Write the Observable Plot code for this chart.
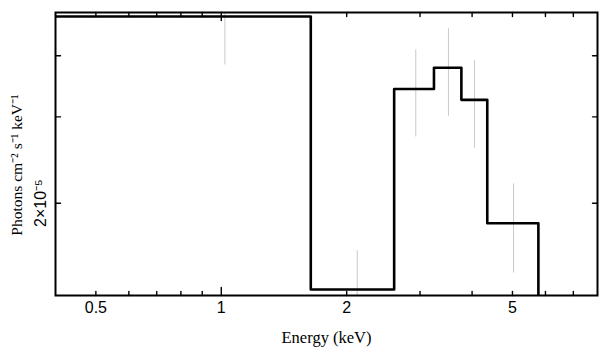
<!DOCTYPE html>
<html>
<head>
<meta charset="utf-8">
<script src="https://cdn.jsdelivr.net/npm/d3@7"></script>
<script src="https://cdn.jsdelivr.net/npm/@observablehq/plot@0.6"></script>
<style>
  html, body { margin: 0; padding: 0; background: #fff; }
</style>
</head>
<body>
<div id="chart"></div>
<script>
// Histogram bins (keV) and model flux (photons cm^-2 s^-1 keV^-1)
const binEdges = [0.4, 1.64, 2.6, 3.24, 3.77, 4.35, 5.77];
const binFlux = [4.81e-5, 1.333e-5, 3.42e-5, 3.78e-5, 3.25e-5, 1.82e-5];

// Data points with error bars
const errEnergy = [1.02, 2.12, 2.93, 3.51, 4.055, 5.03];
const errLow = [3.83e-5, 1.2e-5, 2.73e-5, 3.01e-5, 2.59e-5, 1.44e-5];
const errHigh = [5.2e-5, 1.60e-5, 4.11e-5, 4.54e-5, 3.91e-5, 2.19e-5];

// Axes
const xDomain = [0.4, 8];
const yDomain = [1.296e-5, 4.9e-5];
const xTickLabels = [0.5, 1, 2, 5];
const xMajorTicks = [1];
const xMinorTicks = [0.5, 0.6, 0.7, 0.8, 0.9, 2, 3, 4, 5, 6, 7];
const yTicks = [2e-5, 3e-5, 4e-5];
const yTickLabels = [{value: 2e-5, label: "2×10⁻⁵"}];
const xLabel = "Energy (keV)";
const yLabel = "Photons cm⁻² s⁻¹ keV⁻¹";

const stepPts = binFlux.map((v, i) => ({x: binEdges[i], y: v}));
stepPts.push({x: binEdges[binEdges.length - 1], y: binFlux[binFlux.length - 1]});
stepPts.push({x: binEdges[binEdges.length - 1], y: yDomain[0]});

const errData = errEnergy.map((e, i) => ({x: e, lo: errLow[i], hi: errHigh[i]}));

const tickShape = {draw(context, l) { context.moveTo(0, 0); context.lineTo(0, -l); }};
const tickOpts = {anchor: "start", shape: tickShape, stroke: "black", strokeWidth: 1.4};

const sans = "Liberation Sans, Arial, sans-serif";
const serif = "Liberation Serif, Times New Roman, serif";

const chart = Plot.plot({
  width: 608,
  height: 357,
  marginLeft: 55,
  marginRight: 11,
  marginTop: 12,
  marginBottom: 62,
  style: {background: "#fff", fontFamily: sans},
  x: {type: "log", domain: xDomain, axis: null},
  y: {type: "log", domain: yDomain, axis: null},
  marks: [
    Plot.ruleX(errData, {x: "x", y1: "lo", y2: "hi", stroke: "#c8c8c8", strokeWidth: 1, clip: true}),
    Plot.line(stepPts, {x: "x", y: "y", curve: "step-after", stroke: "black", strokeWidth: 2.6, clip: true}),
    Plot.frame({stroke: "black", strokeWidth: 2}),
    // bottom/top ticks
    Plot.vector(xMinorTicks, {x: d => d, frameAnchor: "bottom", length: 4, rotate: 0, ...tickOpts}),
    Plot.vector(xMajorTicks, {x: d => d, frameAnchor: "bottom", length: 8, rotate: 0, ...tickOpts}),
    Plot.vector(xMinorTicks, {x: d => d, frameAnchor: "top", length: 4, rotate: 180, ...tickOpts}),
    Plot.vector(xMajorTicks, {x: d => d, frameAnchor: "top", length: 8, rotate: 180, ...tickOpts}),
    // left/right ticks
    Plot.vector(yTicks, {y: d => d, frameAnchor: "left", length: 5, rotate: 90, ...tickOpts}),
    Plot.vector(yTicks, {y: d => d, frameAnchor: "right", length: 5, rotate: -90, ...tickOpts}),
    // x tick labels
    Plot.text(xTickLabels, {x: d => d, frameAnchor: "bottom", text: d => String(d), dy: 12, lineAnchor: "middle", fontSize: 16, fontFamily: sans, fill: "black"}),
    // y tick label
    Plot.text(yTickLabels, {y: "value", text: "label", frameAnchor: "left", dx: -15, rotate: -90, lineAnchor: "middle", textAnchor: "middle", fontSize: 16, fontFamily: sans, fill: "black"}),
    // axis labels
    Plot.text([xLabel], {text: d => d, frameAnchor: "bottom", dy: 42, lineAnchor: "middle", fontSize: 16.5, fontFamily: serif, fill: "black"}),
    Plot.text([yLabel], {text: d => d, frameAnchor: "left", dx: -38, dy: 11, rotate: -90, lineAnchor: "middle", textAnchor: "middle", fontSize: 15.5, fontFamily: serif, fill: "black"})
  ]
});
document.getElementById("chart").appendChild(chart);
</script>
</body>
</html>
